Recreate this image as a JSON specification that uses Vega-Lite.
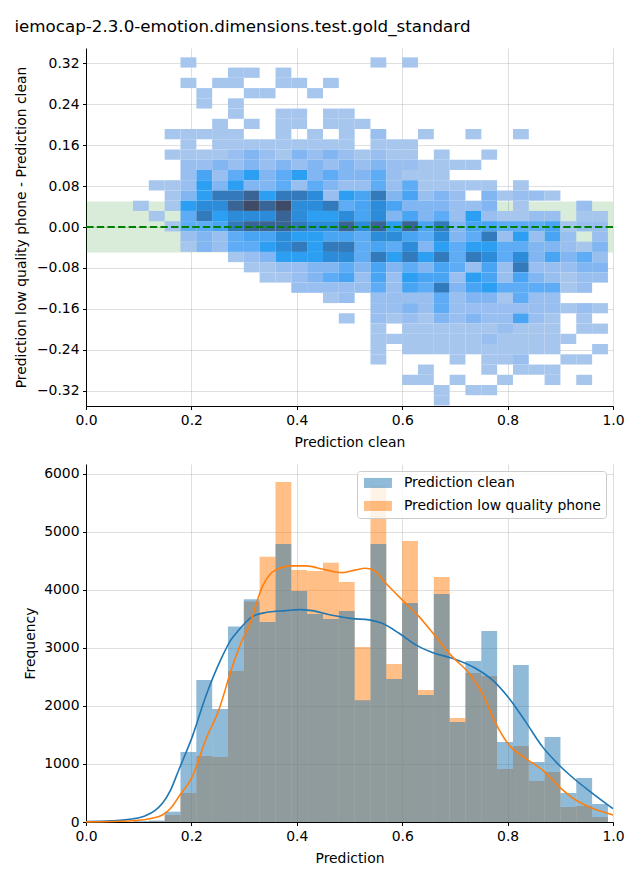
{
  "$schema": "https://vega.github.io/schema/vega-lite/v6.json",
  "padding": {"left": 14, "top": 19, "right": 14, "bottom": 10},
  "title": {"text": "iemocap-2.3.0-emotion.dimensions.test.gold_standard", "fontSize": 16.7, "fontWeight": "normal", "color": "#000000", "font": "DejaVu Sans", "offset": 12},
  "datasets": {
    "xb": [
      {"i":0,"x0":0.0892,"x1":0.1192},{"i":1,"x0":0.1192,"x1":0.1493},{"i":2,"x0":0.1493,"x1":0.1793},{"i":3,"x0":0.1793,"x1":0.2094},{"i":4,"x0":0.2094,"x1":0.2394},{"i":5,"x0":0.2394,"x1":0.2694},{"i":6,"x0":0.2694,"x1":0.2995},{"i":7,"x0":0.2995,"x1":0.3295},{"i":8,"x0":0.3295,"x1":0.3596},{"i":9,"x0":0.3596,"x1":0.3896},
      {"i":10,"x0":0.3896,"x1":0.4196},{"i":11,"x0":0.4196,"x1":0.4497},{"i":12,"x0":0.4497,"x1":0.4797},{"i":13,"x0":0.4797,"x1":0.5098},{"i":14,"x0":0.5098,"x1":0.5398},{"i":15,"x0":0.5398,"x1":0.5698},{"i":16,"x0":0.5698,"x1":0.5999},{"i":17,"x0":0.5999,"x1":0.6299},{"i":18,"x0":0.6299,"x1":0.6600},{"i":19,"x0":0.6600,"x1":0.6900},
      {"i":20,"x0":0.6900,"x1":0.7200},{"i":21,"x0":0.7200,"x1":0.7501},{"i":22,"x0":0.7501,"x1":0.7801},{"i":23,"x0":0.7801,"x1":0.8102},{"i":24,"x0":0.8102,"x1":0.8402},{"i":25,"x0":0.8402,"x1":0.8702},{"i":26,"x0":0.8702,"x1":0.9003},{"i":27,"x0":0.9003,"x1":0.9303},{"i":28,"x0":0.9303,"x1":0.9604},{"i":29,"x0":0.9604,"x1":0.9904}
    ],
    "yb": [
      {"j":0,"y0":0.3117,"y1":0.3317},{"j":1,"y0":0.2917,"y1":0.3117},{"j":2,"y0":0.2716,"y1":0.2917},{"j":3,"y0":0.2516,"y1":0.2716},{"j":4,"y0":0.2316,"y1":0.2516},{"j":5,"y0":0.2116,"y1":0.2316},{"j":6,"y0":0.1916,"y1":0.2116},{"j":7,"y0":0.1715,"y1":0.1916},{"j":8,"y0":0.1515,"y1":0.1715},{"j":9,"y0":0.1315,"y1":0.1515},
      {"j":10,"y0":0.1115,"y1":0.1315},{"j":11,"y0":0.0915,"y1":0.1115},{"j":12,"y0":0.0714,"y1":0.0915},{"j":13,"y0":0.0514,"y1":0.0714},{"j":14,"y0":0.0314,"y1":0.0514},{"j":15,"y0":0.0114,"y1":0.0314},{"j":16,"y0":-0.0086,"y1":0.0114},{"j":17,"y0":-0.0287,"y1":-0.0086},{"j":18,"y0":-0.0487,"y1":-0.0287},{"j":19,"y0":-0.0687,"y1":-0.0487},
      {"j":20,"y0":-0.0887,"y1":-0.0687},{"j":21,"y0":-0.1087,"y1":-0.0887},{"j":22,"y0":-0.1287,"y1":-0.1087},{"j":23,"y0":-0.1488,"y1":-0.1287},{"j":24,"y0":-0.1688,"y1":-0.1488},{"j":25,"y0":-0.1888,"y1":-0.1688},{"j":26,"y0":-0.2088,"y1":-0.1888},{"j":27,"y0":-0.2288,"y1":-0.2088},{"j":28,"y0":-0.2489,"y1":-0.2288},{"j":29,"y0":-0.2689,"y1":-0.2489},
      {"j":30,"y0":-0.2889,"y1":-0.2689},{"j":31,"y0":-0.3089,"y1":-0.2889},{"j":32,"y0":-0.3289,"y1":-0.3089},{"j":33,"y0":-0.3490,"y1":-0.3289}
    ],
    "cells": [
      {"i":3,"j":0,"c":2},{"i":15,"j":0,"c":2},{"i":17,"j":0,"c":2},
      {"i":6,"j":1,"c":2},{"i":7,"j":1,"c":2},{"i":9,"j":1,"c":2},
      {"i":3,"j":2,"c":2},{"i":5,"j":2,"c":2},{"i":6,"j":2,"c":2},{"i":9,"j":2,"c":2},{"i":10,"j":2,"c":2},{"i":12,"j":2,"c":2},
      {"i":4,"j":3,"c":2},{"i":7,"j":3,"c":2},{"i":8,"j":3,"c":2},{"i":11,"j":3,"c":2},
      {"i":4,"j":4,"c":2},{"i":6,"j":4,"c":2},
      {"i":6,"j":5,"c":2},{"i":9,"j":5,"c":2},{"i":10,"j":5,"c":2},{"i":12,"j":5,"c":2},{"i":13,"j":5,"c":2},
      {"i":5,"j":6,"c":2},{"i":7,"j":6,"c":2},{"i":9,"j":6,"c":2},{"i":10,"j":6,"c":2},{"i":12,"j":6,"c":2},{"i":13,"j":6,"c":2},{"i":14,"j":6,"c":2},
      {"i":2,"j":7,"c":2},{"i":3,"j":7,"c":2},{"i":4,"j":7,"c":2},{"i":5,"j":7,"c":2},{"i":6,"j":7,"c":2},{"i":9,"j":7,"c":2},{"i":11,"j":7,"c":2},{"i":13,"j":7,"c":2},{"i":15,"j":7,"c":10},{"i":18,"j":7,"c":2},{"i":21,"j":7,"c":2},{"i":24,"j":7,"c":2},
      {"i":3,"j":8,"c":2},{"i":5,"j":8,"c":2},{"i":6,"j":8,"c":2},{"i":7,"j":8,"c":2},{"i":8,"j":8,"c":2},{"i":9,"j":8,"c":2},{"i":10,"j":8,"c":2},{"i":11,"j":8,"c":2},{"i":12,"j":8,"c":2},{"i":13,"j":8,"c":2},{"i":15,"j":8,"c":2},{"i":16,"j":8,"c":2},{"i":17,"j":8,"c":2},
      {"i":2,"j":9,"c":2},{"i":3,"j":9,"c":2},{"i":4,"j":9,"c":2},{"i":5,"j":9,"c":2},{"i":6,"j":9,"c":10},{"i":7,"j":9,"c":20},{"i":8,"j":9,"c":10},{"i":9,"j":9,"c":2},{"i":10,"j":9,"c":20},{"i":11,"j":9,"c":10},{"i":12,"j":9,"c":20},{"i":13,"j":9,"c":10},{"i":14,"j":9,"c":2},{"i":15,"j":9,"c":10},{"i":16,"j":9,"c":2},{"i":17,"j":9,"c":2},{"i":19,"j":9,"c":2},{"i":22,"j":9,"c":2},
      {"i":3,"j":10,"c":10},{"i":4,"j":10,"c":10},{"i":5,"j":10,"c":20},{"i":6,"j":10,"c":10},{"i":7,"j":10,"c":20},{"i":8,"j":10,"c":10},{"i":9,"j":10,"c":20},{"i":10,"j":10,"c":10},{"i":11,"j":10,"c":20},{"i":12,"j":10,"c":10},{"i":13,"j":10,"c":20},{"i":14,"j":10,"c":10},{"i":15,"j":10,"c":20},{"i":16,"j":10,"c":10},{"i":17,"j":10,"c":10},{"i":18,"j":10,"c":2},{"i":19,"j":10,"c":2},{"i":20,"j":10,"c":2},{"i":21,"j":10,"c":2},
      {"i":3,"j":11,"c":10},{"i":4,"j":11,"c":38},{"i":5,"j":11,"c":10},{"i":6,"j":11,"c":30},{"i":7,"j":11,"c":46},{"i":8,"j":11,"c":20},{"i":9,"j":11,"c":30},{"i":10,"j":11,"c":46},{"i":11,"j":11,"c":20},{"i":12,"j":11,"c":30},{"i":13,"j":11,"c":20},{"i":14,"j":11,"c":20},{"i":15,"j":11,"c":30},{"i":16,"j":11,"c":10},{"i":17,"j":11,"c":2},{"i":18,"j":11,"c":2},{"i":19,"j":11,"c":2},
      {"i":1,"j":12,"c":2},{"i":2,"j":12,"c":2},{"i":3,"j":12,"c":10},{"i":4,"j":12,"c":46},{"i":5,"j":12,"c":20},{"i":6,"j":12,"c":46},{"i":7,"j":12,"c":20},{"i":8,"j":12,"c":20},{"i":9,"j":12,"c":30},{"i":10,"j":12,"c":10},{"i":11,"j":12,"c":30},{"i":12,"j":12,"c":20},{"i":13,"j":12,"c":10},{"i":14,"j":12,"c":10},{"i":15,"j":12,"c":30},{"i":16,"j":12,"c":10},{"i":17,"j":12,"c":30},{"i":18,"j":12,"c":2},{"i":19,"j":12,"c":2},{"i":20,"j":12,"c":2},{"i":21,"j":12,"c":2},{"i":22,"j":12,"c":2},{"i":24,"j":12,"c":2},
      {"i":2,"j":13,"c":2},{"i":3,"j":13,"c":20},{"i":4,"j":13,"c":46},{"i":5,"j":13,"c":70},{"i":6,"j":13,"c":70},{"i":7,"j":13,"c":84},{"i":8,"j":13,"c":46},{"i":9,"j":13,"c":70},{"i":10,"j":13,"c":70},{"i":11,"j":13,"c":58},{"i":12,"j":13,"c":10},{"i":13,"j":13,"c":46},{"i":14,"j":13,"c":38},{"i":15,"j":13,"c":70},{"i":16,"j":13,"c":20},{"i":17,"j":13,"c":38},{"i":18,"j":13,"c":10},{"i":19,"j":13,"c":20},{"i":20,"j":13,"c":10},{"i":22,"j":13,"c":20},{"i":23,"j":13,"c":2},{"i":24,"j":13,"c":10},{"i":25,"j":13,"c":10},{"i":26,"j":13,"c":2},
      {"i":0,"j":14,"c":2},{"i":2,"j":14,"c":2},{"i":3,"j":14,"c":46},{"i":4,"j":14,"c":58},{"i":5,"j":14,"c":58},{"i":6,"j":14,"c":84},{"i":7,"j":14,"c":100},{"i":8,"j":14,"c":84},{"i":9,"j":14,"c":100},{"i":10,"j":14,"c":58},{"i":11,"j":14,"c":58},{"i":12,"j":14,"c":70},{"i":13,"j":14,"c":30},{"i":14,"j":14,"c":38},{"i":15,"j":14,"c":58},{"i":16,"j":14,"c":38},{"i":17,"j":14,"c":20},{"i":18,"j":14,"c":20},{"i":19,"j":14,"c":20},{"i":20,"j":14,"c":10},{"i":21,"j":14,"c":10},{"i":22,"j":14,"c":20},{"i":24,"j":14,"c":2},{"i":28,"j":14,"c":10},
      {"i":1,"j":15,"c":2},{"i":3,"j":15,"c":30},{"i":4,"j":15,"c":70},{"i":5,"j":15,"c":46},{"i":6,"j":15,"c":58},{"i":7,"j":15,"c":58},{"i":8,"j":15,"c":58},{"i":9,"j":15,"c":84},{"i":10,"j":15,"c":58},{"i":11,"j":15,"c":46},{"i":12,"j":15,"c":46},{"i":13,"j":15,"c":58},{"i":14,"j":15,"c":38},{"i":15,"j":15,"c":58},{"i":16,"j":15,"c":20},{"i":17,"j":15,"c":38},{"i":18,"j":15,"c":20},{"i":19,"j":15,"c":30},{"i":20,"j":15,"c":10},{"i":21,"j":15,"c":46},{"i":22,"j":15,"c":10},{"i":23,"j":15,"c":2},{"i":24,"j":15,"c":2},{"i":25,"j":15,"c":10},{"i":26,"j":15,"c":10},{"i":28,"j":15,"c":2},{"i":29,"j":15,"c":2},
      {"i":2,"j":16,"c":2},{"i":3,"j":16,"c":30},{"i":4,"j":16,"c":30},{"i":5,"j":16,"c":38},{"i":6,"j":16,"c":70},{"i":7,"j":16,"c":84},{"i":8,"j":16,"c":84},{"i":9,"j":16,"c":84},{"i":10,"j":16,"c":70},{"i":11,"j":16,"c":58},{"i":12,"j":16,"c":58},{"i":13,"j":16,"c":84},{"i":14,"j":16,"c":58},{"i":15,"j":16,"c":84},{"i":16,"j":16,"c":46},{"i":17,"j":16,"c":84},{"i":18,"j":16,"c":38},{"i":19,"j":16,"c":70},{"i":20,"j":16,"c":20},{"i":21,"j":16,"c":38},{"i":22,"j":16,"c":38},{"i":23,"j":16,"c":30},{"i":24,"j":16,"c":30},{"i":25,"j":16,"c":30},{"i":26,"j":16,"c":38},{"i":27,"j":16,"c":2},{"i":28,"j":16,"c":10},{"i":29,"j":16,"c":10},
      {"i":3,"j":17,"c":10},{"i":4,"j":17,"c":20},{"i":5,"j":17,"c":10},{"i":6,"j":17,"c":30},{"i":7,"j":17,"c":38},{"i":8,"j":17,"c":38},{"i":9,"j":17,"c":58},{"i":10,"j":17,"c":46},{"i":11,"j":17,"c":46},{"i":12,"j":17,"c":38},{"i":13,"j":17,"c":38},{"i":14,"j":17,"c":30},{"i":15,"j":17,"c":58},{"i":16,"j":17,"c":58},{"i":17,"j":17,"c":38},{"i":18,"j":17,"c":30},{"i":19,"j":17,"c":58},{"i":20,"j":17,"c":20},{"i":21,"j":17,"c":30},{"i":22,"j":17,"c":70},{"i":23,"j":17,"c":10},{"i":24,"j":17,"c":46},{"i":25,"j":17,"c":10},{"i":26,"j":17,"c":38},{"i":27,"j":17,"c":10},{"i":29,"j":17,"c":10},
      {"i":3,"j":18,"c":2},{"i":4,"j":18,"c":20},{"i":5,"j":18,"c":10},{"i":6,"j":18,"c":30},{"i":7,"j":18,"c":30},{"i":8,"j":18,"c":46},{"i":9,"j":18,"c":58},{"i":10,"j":18,"c":70},{"i":11,"j":18,"c":46},{"i":12,"j":18,"c":70},{"i":13,"j":18,"c":70},{"i":14,"j":18,"c":30},{"i":15,"j":18,"c":38},{"i":16,"j":18,"c":30},{"i":17,"j":18,"c":58},{"i":18,"j":18,"c":20},{"i":19,"j":18,"c":46},{"i":20,"j":18,"c":30},{"i":21,"j":18,"c":46},{"i":22,"j":18,"c":46},{"i":23,"j":18,"c":30},{"i":24,"j":18,"c":30},{"i":25,"j":18,"c":20},{"i":26,"j":18,"c":20},{"i":27,"j":18,"c":10},{"i":28,"j":18,"c":2},{"i":29,"j":18,"c":20},
      {"i":6,"j":19,"c":2},{"i":7,"j":19,"c":10},{"i":8,"j":19,"c":20},{"i":9,"j":19,"c":46},{"i":10,"j":19,"c":46},{"i":11,"j":19,"c":46},{"i":12,"j":19,"c":58},{"i":13,"j":19,"c":58},{"i":14,"j":19,"c":30},{"i":15,"j":19,"c":70},{"i":16,"j":19,"c":46},{"i":17,"j":19,"c":70},{"i":18,"j":19,"c":46},{"i":19,"j":19,"c":70},{"i":20,"j":19,"c":30},{"i":21,"j":19,"c":70},{"i":22,"j":19,"c":58},{"i":23,"j":19,"c":30},{"i":24,"j":19,"c":58},{"i":25,"j":19,"c":20},{"i":26,"j":19,"c":38},{"i":27,"j":19,"c":20},{"i":28,"j":19,"c":30},{"i":29,"j":19,"c":10},
      {"i":7,"j":20,"c":2},{"i":8,"j":20,"c":2},{"i":9,"j":20,"c":10},{"i":10,"j":20,"c":10},{"i":11,"j":20,"c":20},{"i":12,"j":20,"c":20},{"i":13,"j":20,"c":30},{"i":14,"j":20,"c":20},{"i":15,"j":20,"c":38},{"i":16,"j":20,"c":20},{"i":17,"j":20,"c":30},{"i":18,"j":20,"c":20},{"i":19,"j":20,"c":38},{"i":20,"j":20,"c":30},{"i":21,"j":20,"c":10},{"i":22,"j":20,"c":38},{"i":23,"j":20,"c":10},{"i":24,"j":20,"c":70},{"i":25,"j":20,"c":10},{"i":26,"j":20,"c":10},{"i":27,"j":20,"c":10},{"i":28,"j":20,"c":20},{"i":29,"j":20,"c":20},
      {"i":8,"j":21,"c":2},{"i":9,"j":21,"c":2},{"i":10,"j":21,"c":10},{"i":11,"j":21,"c":20},{"i":12,"j":21,"c":30},{"i":13,"j":21,"c":38},{"i":14,"j":21,"c":10},{"i":15,"j":21,"c":38},{"i":16,"j":21,"c":10},{"i":17,"j":21,"c":46},{"i":18,"j":21,"c":38},{"i":19,"j":21,"c":38},{"i":20,"j":21,"c":10},{"i":21,"j":21,"c":46},{"i":22,"j":21,"c":38},{"i":23,"j":21,"c":10},{"i":24,"j":21,"c":38},{"i":25,"j":21,"c":20},{"i":26,"j":21,"c":10},{"i":27,"j":21,"c":2},{"i":28,"j":21,"c":10},{"i":29,"j":21,"c":10},
      {"i":10,"j":22,"c":10},{"i":11,"j":22,"c":10},{"i":12,"j":22,"c":10},{"i":13,"j":22,"c":10},{"i":14,"j":22,"c":10},{"i":15,"j":22,"c":30},{"i":16,"j":22,"c":10},{"i":17,"j":22,"c":38},{"i":18,"j":22,"c":30},{"i":19,"j":22,"c":70},{"i":20,"j":22,"c":20},{"i":21,"j":22,"c":38},{"i":22,"j":22,"c":46},{"i":23,"j":22,"c":30},{"i":24,"j":22,"c":30},{"i":25,"j":22,"c":30},{"i":26,"j":22,"c":30},{"i":27,"j":22,"c":2},{"i":28,"j":22,"c":10},
      {"i":12,"j":23,"c":2},{"i":13,"j":23,"c":10},{"i":15,"j":23,"c":10},{"i":16,"j":23,"c":10},{"i":17,"j":23,"c":10},{"i":18,"j":23,"c":10},{"i":19,"j":23,"c":30},{"i":20,"j":23,"c":10},{"i":21,"j":23,"c":20},{"i":22,"j":23,"c":20},{"i":23,"j":23,"c":2},{"i":24,"j":23,"c":30},{"i":25,"j":23,"c":10},{"i":26,"j":23,"c":10},
      {"i":15,"j":24,"c":10},{"i":16,"j":24,"c":10},{"i":17,"j":24,"c":20},{"i":18,"j":24,"c":10},{"i":19,"j":24,"c":30},{"i":20,"j":24,"c":10},{"i":21,"j":24,"c":10},{"i":22,"j":24,"c":10},{"i":23,"j":24,"c":10},{"i":24,"j":24,"c":10},{"i":25,"j":24,"c":10},{"i":26,"j":24,"c":10},{"i":27,"j":24,"c":2},{"i":28,"j":24,"c":10},{"i":29,"j":24,"c":2},
      {"i":13,"j":25,"c":2},{"i":15,"j":25,"c":10},{"i":16,"j":25,"c":2},{"i":17,"j":25,"c":10},{"i":18,"j":25,"c":2},{"i":19,"j":25,"c":20},{"i":20,"j":25,"c":10},{"i":21,"j":25,"c":20},{"i":22,"j":25,"c":10},{"i":23,"j":25,"c":10},{"i":24,"j":25,"c":38},{"i":25,"j":25,"c":10},{"i":26,"j":25,"c":2},{"i":28,"j":25,"c":2},
      {"i":15,"j":26,"c":2},{"i":17,"j":26,"c":2},{"i":18,"j":26,"c":2},{"i":19,"j":26,"c":2},{"i":20,"j":26,"c":2},{"i":21,"j":26,"c":2},{"i":22,"j":26,"c":2},{"i":23,"j":26,"c":10},{"i":24,"j":26,"c":2},{"i":25,"j":26,"c":2},{"i":26,"j":26,"c":2},{"i":28,"j":26,"c":2},{"i":29,"j":26,"c":2},
      {"i":15,"j":27,"c":2},{"i":16,"j":27,"c":2},{"i":17,"j":27,"c":2},{"i":18,"j":27,"c":2},{"i":19,"j":27,"c":2},{"i":20,"j":27,"c":2},{"i":21,"j":27,"c":2},{"i":22,"j":27,"c":10},{"i":23,"j":27,"c":2},{"i":24,"j":27,"c":2},{"i":25,"j":27,"c":2},{"i":26,"j":27,"c":2},{"i":27,"j":27,"c":2},
      {"i":15,"j":28,"c":2},{"i":17,"j":28,"c":2},{"i":18,"j":28,"c":2},{"i":19,"j":28,"c":2},{"i":20,"j":28,"c":2},{"i":21,"j":28,"c":2},{"i":22,"j":28,"c":2},{"i":23,"j":28,"c":2},{"i":24,"j":28,"c":2},{"i":25,"j":28,"c":2},{"i":26,"j":28,"c":2},{"i":29,"j":28,"c":2},
      {"i":15,"j":29,"c":2},{"i":20,"j":29,"c":2},{"i":22,"j":29,"c":2},{"i":23,"j":29,"c":2},{"i":24,"j":29,"c":10},{"i":27,"j":29,"c":2},{"i":28,"j":29,"c":2},
      {"i":18,"j":30,"c":2},{"i":22,"j":30,"c":2},{"i":24,"j":30,"c":2},{"i":25,"j":30,"c":2},{"i":26,"j":30,"c":2},
      {"i":17,"j":31,"c":2},{"i":18,"j":31,"c":2},{"i":20,"j":31,"c":2},{"i":23,"j":31,"c":2},{"i":26,"j":31,"c":2},{"i":28,"j":31,"c":2},
      {"i":19,"j":32,"c":2},{"i":21,"j":32,"c":2},{"i":22,"j":32,"c":2},
      {"i":19,"j":33,"c":2}
    ],
    "hist": [
      {"s":"Prediction low quality phone","i":0,"n":5},{"s":"Prediction low quality phone","i":1,"n":15},{"s":"Prediction low quality phone","i":2,"n":120},{"s":"Prediction low quality phone","i":3,"n":500},{"s":"Prediction low quality phone","i":4,"n":1138},{"s":"Prediction low quality phone","i":5,"n":1120},{"s":"Prediction low quality phone","i":6,"n":2603},{"s":"Prediction low quality phone","i":7,"n":3800},{"s":"Prediction low quality phone","i":8,"n":4570},{"s":"Prediction low quality phone","i":9,"n":5860},
      {"s":"Prediction low quality phone","i":10,"n":4345},{"s":"Prediction low quality phone","i":11,"n":4328},{"s":"Prediction low quality phone","i":12,"n":4466},{"s":"Prediction low quality phone","i":13,"n":4138},{"s":"Prediction low quality phone","i":14,"n":3017},{"s":"Prediction low quality phone","i":15,"n":5800},{"s":"Prediction low quality phone","i":16,"n":2724},{"s":"Prediction low quality phone","i":17,"n":4845},{"s":"Prediction low quality phone","i":18,"n":2276},{"s":"Prediction low quality phone","i":19,"n":4224},
      {"s":"Prediction low quality phone","i":20,"n":1793},{"s":"Prediction low quality phone","i":21,"n":2569},{"s":"Prediction low quality phone","i":22,"n":2517},{"s":"Prediction low quality phone","i":23,"n":914},{"s":"Prediction low quality phone","i":24,"n":1310},{"s":"Prediction low quality phone","i":25,"n":707},{"s":"Prediction low quality phone","i":26,"n":862},{"s":"Prediction low quality phone","i":27,"n":259},{"s":"Prediction low quality phone","i":28,"n":276},{"s":"Prediction low quality phone","i":29,"n":86},
      {"s":"Prediction clean","i":0,"n":15},{"s":"Prediction clean","i":1,"n":25},{"s":"Prediction clean","i":2,"n":178},{"s":"Prediction clean","i":3,"n":1207},{"s":"Prediction clean","i":4,"n":2448},{"s":"Prediction clean","i":5,"n":1948},{"s":"Prediction clean","i":6,"n":3370},{"s":"Prediction clean","i":7,"n":3840},{"s":"Prediction clean","i":8,"n":3448},{"s":"Prediction clean","i":9,"n":4793},
      {"s":"Prediction clean","i":10,"n":3983},{"s":"Prediction clean","i":11,"n":3586},{"s":"Prediction clean","i":12,"n":3500},{"s":"Prediction clean","i":13,"n":3638},{"s":"Prediction clean","i":14,"n":2100},{"s":"Prediction clean","i":15,"n":4793},{"s":"Prediction clean","i":16,"n":2466},{"s":"Prediction clean","i":17,"n":3776},{"s":"Prediction clean","i":18,"n":2190},{"s":"Prediction clean","i":19,"n":3931},
      {"s":"Prediction clean","i":20,"n":1724},{"s":"Prediction clean","i":21,"n":2776},{"s":"Prediction clean","i":22,"n":3293},{"s":"Prediction clean","i":23,"n":1379},{"s":"Prediction clean","i":24,"n":2707},{"s":"Prediction clean","i":25,"n":1034},{"s":"Prediction clean","i":26,"n":1466},{"s":"Prediction clean","i":27,"n":500},{"s":"Prediction clean","i":28,"n":759},{"s":"Prediction clean","i":29,"n":310}
    ],
    "kde": [
      {"s":"Prediction clean","x":0,"d":8},{"s":"Prediction clean","x":0.05,"d":20},{"s":"Prediction clean","x":0.09,"d":55},{"s":"Prediction clean","x":0.113,"d":109},{"s":"Prediction clean","x":0.13,"d":190},{"s":"Prediction clean","x":0.145,"d":322},{"s":"Prediction clean","x":0.16,"d":540},{"s":"Prediction clean","x":0.176,"d":897},{"s":"Prediction clean","x":0.2017,"d":1471},{"s":"Prediction clean","x":0.227,"d":2160},{"s":"Prediction clean","x":0.2555,"d":2793},{"s":"Prediction clean","x":0.275,"d":3138},{"s":"Prediction clean","x":0.29,"d":3310},{"s":"Prediction clean","x":0.3156,"d":3540},{"s":"Prediction clean","x":0.341,"d":3610},{"s":"Prediction clean","x":0.379,"d":3643},{"s":"Prediction clean","x":0.404,"d":3660},{"s":"Prediction clean","x":0.429,"d":3643},{"s":"Prediction clean","x":0.467,"d":3562},{"s":"Prediction clean","x":0.505,"d":3505},{"s":"Prediction clean","x":0.537,"d":3483},{"s":"Prediction clean","x":0.562,"d":3425},{"s":"Prediction clean","x":0.594,"d":3253},{"s":"Prediction clean","x":0.6256,"d":3052},{"s":"Prediction clean","x":0.657,"d":2920},{"s":"Prediction clean","x":0.695,"d":2822},{"s":"Prediction clean","x":0.739,"d":2649},{"s":"Prediction clean","x":0.771,"d":2448},{"s":"Prediction clean","x":0.8027,"d":2132},{"s":"Prediction clean","x":0.834,"d":1730},{"s":"Prediction clean","x":0.866,"d":1299},{"s":"Prediction clean","x":0.8975,"d":983},{"s":"Prediction clean","x":0.929,"d":724},{"s":"Prediction clean","x":0.961,"d":495},{"s":"Prediction clean","x":1.0,"d":230},
      {"s":"Prediction low quality phone","x":0,"d":3},{"s":"Prediction low quality phone","x":0.05,"d":8},{"s":"Prediction low quality phone","x":0.1,"d":30},{"s":"Prediction low quality phone","x":0.125,"d":65},{"s":"Prediction low quality phone","x":0.145,"d":120},{"s":"Prediction low quality phone","x":0.162,"d":250},{"s":"Prediction low quality phone","x":0.176,"d":436},{"s":"Prediction low quality phone","x":0.2017,"d":781},{"s":"Prediction low quality phone","x":0.227,"d":1414},{"s":"Prediction low quality phone","x":0.252,"d":1931},{"s":"Prediction low quality phone","x":0.2777,"d":2678},{"s":"Prediction low quality phone","x":0.2966,"d":3138},{"s":"Prediction low quality phone","x":0.309,"d":3367},{"s":"Prediction low quality phone","x":0.3346,"d":4057},{"s":"Prediction low quality phone","x":0.36,"d":4345},{"s":"Prediction low quality phone","x":0.3915,"d":4414},{"s":"Prediction low quality phone","x":0.417,"d":4414},{"s":"Prediction low quality phone","x":0.455,"d":4345},{"s":"Prediction low quality phone","x":0.486,"d":4298},{"s":"Prediction low quality phone","x":0.512,"d":4345},{"s":"Prediction low quality phone","x":0.53,"d":4374},{"s":"Prediction low quality phone","x":0.546,"d":4340},{"s":"Prediction low quality phone","x":0.569,"d":4115},{"s":"Prediction low quality phone","x":0.6,"d":3828},{"s":"Prediction low quality phone","x":0.632,"d":3540},{"s":"Prediction low quality phone","x":0.6636,"d":3195},{"s":"Prediction low quality phone","x":0.695,"d":2850},{"s":"Prediction low quality phone","x":0.7268,"d":2563},{"s":"Prediction low quality phone","x":0.752,"d":2219},{"s":"Prediction low quality phone","x":0.7774,"d":1701},{"s":"Prediction low quality phone","x":0.8027,"d":1328},{"s":"Prediction low quality phone","x":0.834,"d":1098},{"s":"Prediction low quality phone","x":0.866,"d":897},{"s":"Prediction low quality phone","x":0.8975,"d":609},{"s":"Prediction low quality phone","x":0.929,"d":379},{"s":"Prediction low quality phone","x":0.961,"d":236},{"s":"Prediction low quality phone","x":1.0,"d":121}
    ]
  },
  "spacing": 14,
  "vconcat": [
    {
      "width": 527,
      "height": 358,
      "layer": [
        {
          "data": {"values": [{"lo": -0.05, "hi": 0.05}]},
          "mark": {"type": "rect", "color": "green", "opacity": 0.15},
          "encoding": {
            "y": {"field": "lo", "type": "quantitative", "scale": {"domain": [-0.35, 0.35], "nice": false, "zero": false}, "title": "Prediction low quality phone - Prediction clean"},
            "y2": {"field": "hi"}
          }
        },
        {
          "data": {"name": "cells"},
          "transform": [
            {"lookup": "i", "from": {"data": {"name": "xb"}, "key": "i", "fields": ["x0", "x1"]}},
            {"lookup": "j", "from": {"data": {"name": "yb"}, "key": "j", "fields": ["y0", "y1"]}}
          ],
          "mark": {"type": "rect"},
          "encoding": {
            "x": {"field": "x0", "type": "quantitative", "scale": {"domain": [0, 1], "nice": false, "zero": false}, "axis": {"values": [0, 0.2, 0.4, 0.6, 0.8, 1.0], "format": ".1f", "title": "Prediction clean", "titlePadding": 9}},
            "x2": {"field": "x1"},
            "y": {"field": "y0", "type": "quantitative", "scale": {"domain": [-0.35, 0.35], "nice": false, "zero": false}, "axis": {"values": [-0.32, -0.24, -0.16, -0.08, 0, 0.08, 0.16, 0.24, 0.32], "format": ".2f", "title": "Prediction low quality phone - Prediction clean", "titlePadding": 8}},
            "y2": {"field": "y1"},
            "color": {"field": "c", "type": "quantitative", "legend": null, "scale": {"type": "linear", "domain": [0, 15, 30, 46, 60, 75, 88, 100], "range": ["#aac8ee", "#8fbbf0", "#5eacf5", "#2d9ff2", "#2c89d6", "#3372ae", "#3a5f8b", "#3e4b66"]}}
          }
        },
        {
          "data": {"values": [{"z": 0}]},
          "mark": {"type": "rule", "color": "green", "strokeWidth": 2, "strokeDash": [7.4, 3.2]},
          "encoding": {"y": {"field": "z", "type": "quantitative", "title": "Prediction low quality phone - Prediction clean"}}
        }
      ]
    },
    {
      "width": 527,
      "height": 358,
      "layer": [
        {
          "data": {"name": "hist"},
          "transform": [
            {"lookup": "i", "from": {"data": {"name": "xb"}, "key": "i", "fields": ["x0", "x1"]}}
          ],
          "mark": {"type": "rect", "opacity": 0.5},
          "encoding": {
            "x": {"field": "x0", "type": "quantitative", "scale": {"domain": [0, 1], "nice": false, "zero": false}, "axis": {"values": [0, 0.2, 0.4, 0.6, 0.8, 1.0], "format": ".1f", "title": "Prediction", "titlePadding": 9}},
            "x2": {"field": "x1"},
            "y": {"field": "n", "type": "quantitative", "stack": null, "scale": {"domain": [0, 6170], "nice": false}, "axis": {"values": [0, 1000, 2000, 3000, 4000, 5000, 6000], "format": "d", "title": "Frequency"}},
            "y2": {"datum": 0},
            "color": {"field": "s", "type": "nominal", "scale": {"domain": ["Prediction clean", "Prediction low quality phone"], "range": ["#1f77b4", "#ff7f0e"]},
              "legend": {"title": null, "orient": "top-right", "offset": 7, "symbolType": "M-2.8,-1L2.8,-1L2.8,1L-2.8,1Z", "symbolSize": 100, "symbolOffset": 9, "symbolOpacity": 0.5, "symbolStrokeWidth": 0, "labelFontSize": 13.9, "labelColor": "#000000", "labelFont": "DejaVu Sans", "labelLimit": 400, "fillColor": "rgba(255,255,255,0.8)", "strokeColor": "#cccccc", "cornerRadius": 3, "padding": 5, "rowPadding": 8, "labelOffset": 19}}
          }
        },
        {
          "data": {"name": "kde"},
          "mark": {"type": "line", "strokeWidth": 1.6, "interpolate": "monotone"},
          "encoding": {
            "x": {"field": "x", "type": "quantitative"},
            "y": {"field": "d", "type": "quantitative", "title": "Frequency"},
            "stroke": {"field": "s", "type": "nominal", "scale": {"domain": ["Prediction clean", "Prediction low quality phone"], "range": ["#1f77b4", "#ff7f0e"]}, "legend": null}
          }
        }
      ]
    }
  ],
  "config": {
    "font": "DejaVu Sans",
    "view": {"stroke": null},
    "axis": {
      "domainColor": "#000000", "domainWidth": 1, "tickColor": "#000000", "tickWidth": 1, "tickSize": 3.5,
      "labelFontSize": 13.9, "labelColor": "#000000", "labelPadding": 3.5, "labelFont": "DejaVu Sans", "labelFlush": false,
      "titleFontSize": 13.9, "titleFontWeight": "normal", "titleColor": "#000000", "titleFont": "DejaVu Sans", "titlePadding": 6,
      "gridColor": "#b0b0b0", "gridOpacity": 0.5, "gridWidth": 0.8, "zindex": 1
    }
  }
}
